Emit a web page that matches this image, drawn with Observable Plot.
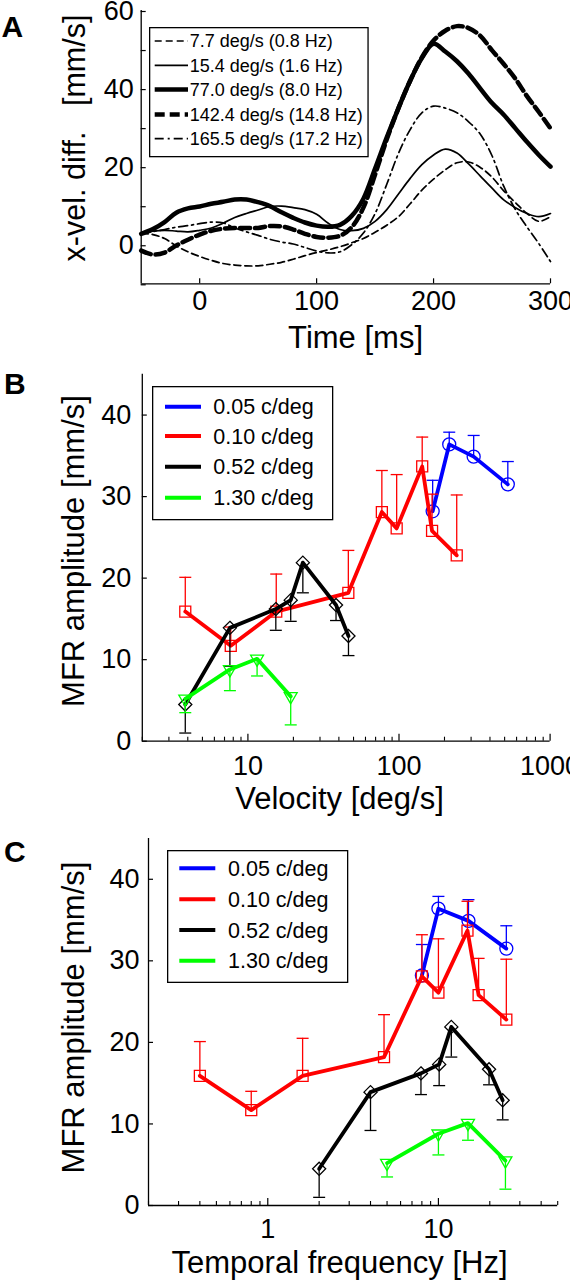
<!DOCTYPE html>
<html>
<head>
<meta charset="utf-8">
<script src="https://cdn.jsdelivr.net/npm/d3@7"></script>
<script src="https://cdn.jsdelivr.net/npm/@observablehq/plot@0.6"></script>
<style>
  html,body{margin:0;padding:0;background:#fff;}
  #fig{position:relative;width:570px;height:1280px;overflow:hidden;background:#fff;}
  #fig > .layer{position:absolute;left:0;}
  #fig svg{display:block;}
</style>
</head>
<body>
<div id="fig"></div>
<script>
// ================= DATA =================
// Panel A: x-velocity difference traces (mm/s) vs time (ms)
const timeMs = [-50,-40,-30,-20,-10,0,10,20,30,40,50,60,70,80,90,100,110,120,130,140,150,160,170,180,190,200,210,220,230,240,250,260,270,280,290,300];
const xv_7_7   = [3.0,2.6,1.6,-0.3,-1.8,-3.0,-4.0,-4.8,-5.2,-5.4,-5.4,-5.0,-4.5,-3.7,-2.8,-2.0,-1.3,-0.5,0.5,1.6,3.2,5.0,7.2,10.5,14.0,16.8,19.2,21.0,21.2,19.8,17.3,13.8,10.8,8.0,6.0,7.2];
const xv_15_4  = [3.0,3.5,3.7,3.5,3.3,3.7,4.3,5.5,7.0,8.0,8.9,9.8,9.9,9.5,9.0,7.8,5.5,3.9,3.6,4.2,6.0,9.0,13.0,17.0,20.5,23.0,24.5,23.5,20.7,17.6,14.5,11.5,9.5,8.0,7.2,8.0];
const xv_77_0  = [2.8,4.0,5.8,8.2,9.3,9.8,10.5,11.0,11.6,11.6,10.9,9.9,8.3,6.9,5.7,4.9,4.6,5.1,7.4,11.8,19.5,27.5,35.0,42.0,47.8,51.5,49.5,47.0,43.8,40.0,36.3,33.3,29.8,26.3,23.0,20.0];
const xv_142_4 = [-1.5,-2.5,-2.0,-0.2,1.3,2.6,3.6,4.1,4.3,4.3,4.3,4.8,4.7,3.9,2.8,2.0,1.8,2.3,4.5,9.5,18.0,27.0,35.0,42.0,48.0,52.3,54.8,56.0,55.5,53.5,49.8,46.3,42.5,38.0,34.0,29.8];
const xv_165_5 = [3.0,3.4,3.9,4.5,4.9,5.4,5.8,5.6,4.3,3.3,2.4,1.4,0.7,0.2,-0.7,-1.6,-2.1,-1.8,0.0,3.0,8.0,15.5,23.4,29.5,33.8,35.5,35.0,33.8,31.5,28.3,22.8,15.0,9.0,4.5,0.3,-4.3];
const legendA = ["7.7 deg/s (0.8 Hz)","15.4 deg/s (1.6 Hz)","77.0 deg/s (8.0 Hz)","142.4 deg/s (14.8 Hz)","165.5 deg/s (17.2 Hz)"];
const aTimeTicks = [0,100,200,300];
const aVelTicks = [-10,0,10,20,30,40,50,60];
const aVelLabels = [0,20,40,60];

// Panels B & C: MFR amplitude per spatial frequency
const sfLabels = ["0.05 c/deg","0.10 c/deg","0.52 c/deg","1.30 c/deg"];
// 0.05 c/deg (blue)
const sf005_vel = [167,215,312,525];
const sf005_tf  = [8,10,15,25];
const sf005_amp = [28.2,36.4,34.9,31.5];
const sf005_bar = [32.0,37.9,37.5,34.3];
// 0.10 c/deg (red)
const sf010_vel = [3.85,7.7,15.4,46.2,77.0,96.5,142.4,165.5,241];
const sf010_tf  = [0.4,0.8,1.6,4.8,8.0,10.0,14.8,17.2,25.0];
const sf010_amp = [15.9,11.7,15.9,18.2,28.1,26.1,33.7,25.8,22.8];
const sf010_bar = [20.1,14.0,20.5,23.4,33.2,32.7,37.3,30.3,30.2];
// 0.52 c/deg (black)
const sf052_vel = [3.85,7.6,15.3,19.2,23.1,38.3,46.3];
const sf052_tf  = [2.0,4.0,7.9,10.1,11.9,19.8,23.8];
const sf052_amp = [4.5,13.9,16.2,17.3,21.9,16.7,12.9];
const sf052_bar = [1.0,9.2,13.6,14.7,18.2,14.8,10.5];
// 1.30 c/deg (green)
const sf130_vel = [3.85,7.6,11.5,19.2];
const sf130_tf  = [5.0,10.0,14.9,24.7];
const sf130_amp = [5.2,8.8,10.1,5.5];
const sf130_bar = [3.5,6.2,8.0,2.0];

const mfrTicks = [0,10,20,30,40];
const bMajorTicks = [10,100,1000];
const bMinorTicks = [2,3,4,5,6,7,8,9,20,30,40,50,60,70,80,90,200,300,400,500,600,700,800,900];
const cMajorTicks = [1,10];
const cMinorTicks = [0.2,0.3,0.4,0.5,0.6,0.7,0.8,0.9,2,3,4,5,6,7,8,9,20,30,40,50];

// ================= DRAWING =================
const FONT = '"Liberation Sans", Arial, Helvetica, sans-serif';
const fig = document.getElementById("fig");
function place(node, top){ const d=document.createElement("div"); d.className="layer"; d.style.top=top+"px"; d.appendChild(node); fig.appendChild(d); }
const capSym = {draw(ctx, size){ const w=Math.sqrt(size/Math.PI); ctx.moveTo(-w,0); ctx.lineTo(w,0); }};

// rotated y-axis title, appended to a plot's svg (x = baseline position, y = centre)
function yTitle(svg, label, x, y, size) {
  d3.select(svg).append("text")
    .attr("transform", `translate(${x},${y}) rotate(-90)`)
    .attr("text-anchor", "middle")
    .attr("font-family", FONT).attr("font-size", size).attr("fill", "#000")
    .style("white-space", "pre")
    .text(label);
}

function makeLegend({left, top, w, h, rows, fontSize, x1, x2, tx, items}) {
  const svg = d3.create("svg").attr("width", w+2).attr("height", h+2)
    .style("position","absolute").style("left",left+"px").style("top",top+"px").style("overflow","visible");
  svg.append("rect").attr("x",0.65).attr("y",0.65).attr("width",w).attr("height",h)
    .attr("fill","#fff").attr("stroke","#000").attr("stroke-width",1.3);
  items.forEach((it,i)=>{
    svg.append("line").attr("x1",x1).attr("x2",x2).attr("y1",rows[i]).attr("y2",rows[i])
      .attr("stroke",it.color).attr("stroke-width",it.sw).attr("stroke-dasharray",it.dash||null);
    svg.append("text").attr("x",tx).attr("y",rows[i]).attr("dy","0.36em")
      .attr("font-family",FONT).attr("font-size",fontSize).attr("fill","#000").text(it.label);
  });
  fig.appendChild(svg.node());
}

// ---------- Panel A ----------
const aSeries = [
  {label: legendA[0], vals: xv_7_7,   sw: 1.7, dash: "7,4"},
  {label: legendA[1], vals: xv_15_4,  sw: 1.7, dash: null},
  {label: legendA[2], vals: xv_77_0,  sw: 4.5, dash: null},
  {label: legendA[3], vals: xv_142_4, sw: 4.5, dash: "10,5"},
  {label: legendA[4], vals: xv_165_5, sw: 1.7, dash: "9,4,2,4"}
];
const plotA = Plot.plot({
  width: 570, height: 360,
  marginLeft: 140.7, marginRight: 20, marginTop: 10, marginBottom: 76.7,
  style: {fontFamily: FONT, fontSize: "27px", color: "#000", background: "transparent", overflow: "visible"},
  x: {domain: [-50, 300]},
  y: {domain: [-10, 60]},
  marks: [
    Plot.ruleX([-50], {strokeWidth: 1.3}),
    Plot.ruleY([-10], {strokeWidth: 1.3}),
    Plot.axisX({ticks: aTimeTicks, tickSize: -5, tickPadding: 12.4, tickFormat: d => String(d), label: null, strokeWidth: 1.2}),
    Plot.axisY({ticks: aVelTicks, tickSize: -5, tickPadding: 12.4, dy: 1, tickFormat: d => aVelLabels.includes(d) ? String(d) : "", label: null, strokeWidth: 1.2}),
    ...aSeries.map(s => Plot.line(timeMs.map((t,i)=>({t, v: s.vals[i]})),
        {x: "t", y: "v", stroke: "#000", strokeWidth: s.sw, strokeDasharray: s.dash || undefined, curve: "catmull-rom"})),
    Plot.text(["A"], {frameAnchor: "top-left", dx: -139.7, dy: 26.7, textAnchor: "start", lineAnchor: "bottom", fontSize: 30, fontWeight: "bold"}),
    Plot.text(["Time [ms]"], {frameAnchor: "bottom", dx: 9.7, dy: 63.7, lineAnchor: "bottom", fontSize: 31})
  ]
});
yTitle(plotA, "x-vel. diff.   [mm/s]", 85, 138, 30.5);
place(plotA, 0);
makeLegend({left: 149.3, top: 26.7, w: 218.4, h: 129, rows: [14, 38.3, 62.6, 87.6, 111.6], fontSize: 18,
  x1: 5.7, x2: 39, tx: 40.7,
  items: aSeries.map(s => ({label: s.label, color: "#000", sw: s.sw, dash: s.dash}))});

// ---------- Panels B and C ----------
const mfrSeries = [
  {label: sfLabels[0], color: "#0000ff", symbol: "circle",   r: 6.5, rot: 0,   vel: sf005_vel, tf: sf005_tf, amp: sf005_amp, bar: sf005_bar},
  {label: sfLabels[1], color: "#ff0000", symbol: "square",   r: 6.2, rot: 0,   vel: sf010_vel, tf: sf010_tf, amp: sf010_amp, bar: sf010_bar},
  {label: sfLabels[2], color: "#000000", symbol: "diamond2", r: 5.9, rot: 0,   vel: sf052_vel, tf: sf052_tf, amp: sf052_amp, bar: sf052_bar},
  {label: sfLabels[3], color: "#00ff00", symbol: "triangle", r: 4.8, rot: 180, vel: sf130_vel, tf: sf130_tf, amp: sf130_amp, bar: sf130_bar}
];

function mfrPanel(o) {
  const marks = [
    Plot.ruleX([o.xDomain[0]], {strokeWidth: 1.3}),
    Plot.ruleY([0], {strokeWidth: 1.3}),
    Plot.axisX({ticks: o.minor, tickSize: -4, tickFormat: () => "", label: null, strokeWidth: 1.1}),
    Plot.axisX({ticks: o.major, tickSize: -7, tickPadding: o.xPad + 7, tickFormat: d => String(d), label: null, strokeWidth: 1.2}),
    Plot.axisY({ticks: mfrTicks, tickSize: -5, tickPadding: o.yPad + 5, tickFormat: d => String(d), label: null, strokeWidth: 1.2})
  ];
  for (const s of mfrSeries) {
    const rows = s[o.key].map((x,i) => ({x, m: s.amp[i], e: s.bar[i]}));
    marks.push(Plot.ruleX(rows, {x: "x", y1: "m", y2: "e", stroke: s.color, strokeWidth: 1.3}));
    marks.push(Plot.dot(rows, {x: "x", y: "e", symbol: capSym, r: 6, stroke: s.color, strokeWidth: 1.3, fill: "none"}));
    marks.push(Plot.line(rows, {x: "x", y: "m", stroke: s.color, strokeWidth: 3.8}));
    marks.push(Plot.dot(rows, {x: "x", y: "m", symbol: s.symbol, r: s.r, rotate: s.rot, stroke: s.color, strokeWidth: 1.3, fill: "none"}));
  }
  marks.push(Plot.text([o.letter], {frameAnchor: "top-left", dx: o.letterDx, dy: o.letterDy, textAnchor: "start", lineAnchor: "bottom", fontSize: 30, fontWeight: "bold"}));
  marks.push(Plot.text([o.xLabel], {frameAnchor: "bottom", dx: o.xlDx, dy: o.xlDy, lineAnchor: "bottom", fontSize: 31}));
  const svg = Plot.plot({
    width: 570, height: o.height,
    marginLeft: o.mL, marginRight: o.mR, marginTop: o.mT, marginBottom: o.mB,
    style: {fontFamily: FONT, fontSize: "27px", color: "#000", background: "transparent", overflow: "visible"},
    x: {type: "log", domain: o.xDomain},
    y: {domain: [0, 45]},
    marks
  });
  yTitle(svg, "MFR amplitude [mm/s]", o.ylX, o.ylY, 31);
  return svg;
}

place(mfrPanel({key: "vel", height: 460, mL: 141.8, mR: 20.4, mT: 13.8, mB: 79.3, xDomain: [2, 1000],
  minor: bMinorTicks, major: bMajorTicks, xPad: 14.3, yPad: 10.9,
  letter: "B", letterDx: -138.2, letterDy: 19.2,
  xLabel: "Velocity [deg/s]", xlDx: -6.7, xlDy: 67.3, ylX: 84, ylY: 191}), 360);
makeLegend({left: 152, top: 386, w: 180, h: 133, rows: [20.7, 50, 80.7, 111.7], fontSize: 21.5,
  x1: 13, x2: 49, tx: 61.3,
  items: mfrSeries.map(s => ({label: s.label, color: s.color, sw: 4}))});

place(mfrPanel({key: "tf", height: 460, mL: 148, mR: 12.8, mT: 18, mB: 75, xDomain: [0.2, 50],
  minor: cMinorTicks, major: cMajorTicks, xPad: 13.3, yPad: 9,
  letter: "C", letterDx: -144.4, letterDy: 23.7,
  xLabel: "Temporal frequency [Hz]", xlDx: -13.6, xlDy: 67, ylX: 84, ylY: 197.5}), 820);
makeLegend({left: 166.7, top: 850, w: 180, h: 131.7, rows: [18.3, 49.3, 80, 110.7], fontSize: 21.5,
  x1: 12.3, x2: 48.3, tx: 61,
  items: mfrSeries.map(s => ({label: s.label, color: s.color, sw: 4}))});
</script>
</body>
</html>
